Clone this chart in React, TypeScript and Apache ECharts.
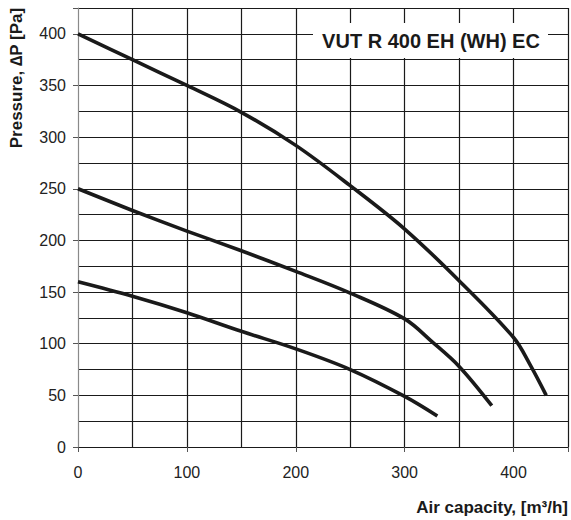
import React, { useEffect, useRef } from "react";
import * as echarts from "echarts";

// Air capacity [m3/h] and pressure [Pa]
const curveHighX = [0, 50, 100, 150, 200, 250, 300, 350, 400, 415, 430];
const curveHighY = [400, 375, 350, 324, 292, 253, 211, 161, 106, 80, 50];
const curveMidX = [0, 50, 100, 150, 200, 250, 300, 325, 350, 380];
const curveMidY = [250, 229, 209, 190, 170, 149, 124, 102, 78, 40];
const curveLowX = [0, 50, 100, 150, 200, 250, 300, 330];
const curveLowY = [160, 146, 130, 112, 95, 75, 49, 30];

const xTickLabels = ["0", "100", "200", "300", "400"];
const yTickLabels = ["0", "50", "100", "150", "200", "250", "300", "350", "400"];

const titleText = "VUT R 400 EH (WH) EC";
const xName = "Air capacity, [m³/h]";
const yName = "Pressure, ∆P [Pa]";

const FONT = "'Liberation Sans', Arial, Helvetica, sans-serif";
const INK = "#1a1a1a";

function pairs(xs: number[], ys: number[]) {
  return xs.map((x, i) => [x, ys[i]]);
}

export default function App() {
  const ref = useRef<HTMLDivElement>(null);

  useEffect(() => {
    if (!ref.current) return;
    const chart = echarts.init(ref.current, null, { renderer: "svg" });
    const curveSeries = (name: string, xs: number[], ys: number[]) => ({
      name,
      type: "custom",
      xAxisIndex: 0,
      yAxisIndex: 0,
      data: pairs(xs, ys),
      encode: { x: 0, y: 1 },
      z: 5,
      renderItem: (params: any, api: any) => {
        if (params.dataIndex !== 0) return null;
        const pts = xs.map((x, i) => api.coord([x, ys[i]]));
        return {
          type: "polyline",
          shape: { points: pts, smooth: 0.35 },
          style: { stroke: INK, lineWidth: 3.6, fill: null, lineJoin: "round" },
        };
      },
    });
    chart.setOption({
      animation: false,
      backgroundColor: "#ffffff",
      grid: { left: 78, right: 2, top: 8, bottom: 73, containLabel: false },
      xAxis: [
        {
          type: "value",
          min: 0,
          max: 450,
          interval: 50,
          axisLine: { show: true, lineStyle: { color: INK, width: 1 } },
          axisTick: { show: false },
          axisLabel: {
            formatter: (v: number) => (xTickLabels.includes(String(v)) ? String(v) : ""),
            fontSize: 16,
            color: "#222",
            fontFamily: FONT,
            margin: 17,
          },
          splitLine: { show: true, showMinLine: false, lineStyle: { color: INK, width: 1.2 } },
        },
        {
          type: "value",
          min: 0,
          max: 450,
          interval: 100,
          position: "bottom",
          axisLine: { show: false },
          axisTick: { show: true, length: 5, lineStyle: { color: "#555" } },
          axisLabel: { show: false },
          splitLine: { show: false },
        },
      ],
      yAxis: [
        {
          type: "value",
          min: 0,
          max: 425,
          interval: 25,
          axisLine: { show: true, lineStyle: { color: "#8a8a8a", width: 1.2 } },
          axisTick: { show: false },
          axisLabel: {
            formatter: (v: number) => (yTickLabels.includes(String(v)) ? String(v) : ""),
            fontSize: 16,
            color: "#222",
            fontFamily: FONT,
            margin: 12,
          },
          splitLine: { show: true, lineStyle: { color: INK, width: 1.2 } },
        },
        {
          type: "value",
          min: 0,
          max: 425,
          interval: 50,
          position: "left",
          axisLine: { show: false },
          axisTick: { show: true, length: 5, lineStyle: { color: "#555" } },
          axisLabel: { show: false },
          splitLine: { show: false },
        },
      ],
      series: [
        curveSeries("high", curveHighX, curveHighY),
        curveSeries("mid", curveMidX, curveMidY),
        curveSeries("low", curveLowX, curveLowY),
      ],
      graphic: [
        {
          type: "rect",
          z: 100,
          shape: { x: 313, y: 23, width: 235, height: 35 },
          style: { fill: "#ffffff" },
        },
        {
          type: "text",
          z: 101,
          x: 431,
          y: 41,
          style: {
            text: titleText,
            font: `bold 20px ${FONT}`,
            fill: INK,
            align: "center",
            verticalAlign: "middle",
          },
        },
        {
          type: "text",
          z: 101,
          x: 16,
          y: 78,
          rotation: Math.PI / 2,
          style: {
            text: yName,
            font: `bold 17px ${FONT}`,
            fill: INK,
            align: "center",
            verticalAlign: "middle",
          },
        },
        {
          type: "text",
          z: 101,
          x: 568,
          y: 507,
          style: {
            text: xName,
            font: `bold 17px ${FONT}`,
            fill: INK,
            align: "right",
            verticalAlign: "middle",
          },
        },
      ],
    });
    return () => chart.dispose();
  }, []);

  return (
    <div
      ref={ref}
      style={{ position: "fixed", left: 0, top: 0, width: 571, height: 520, background: "#fff" }}
    />
  );
}
